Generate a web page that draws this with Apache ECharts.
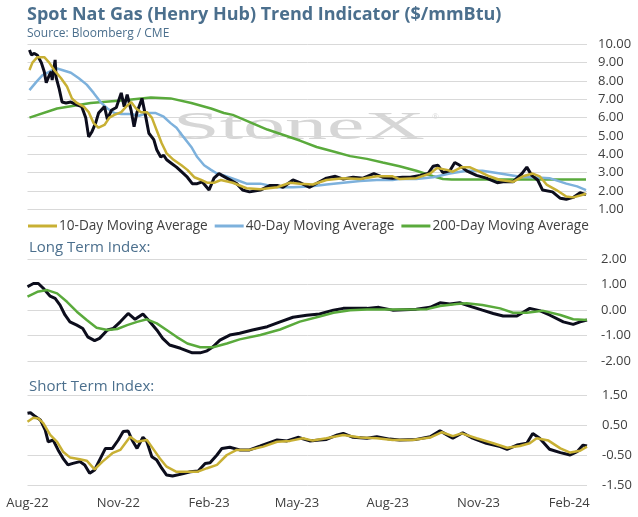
<!DOCTYPE html>
<html>
<head>
<meta charset="utf-8">
<script src="https://cdn.jsdelivr.net/npm/echarts@6.0.0/dist/echarts.min.js"></script>
<style>
  html, body { margin: 0; padding: 0; background: #fff; }
  #main { width: 638px; height: 517px; }
</style>
</head>
<body>
<div id="main"></div>
<script>
// x values are days counted from 1 Aug 2022
const monthTicks = [0, 92, 184, 273, 365, 457, 549];
const priceTicks = [1, 2, 3, 4, 5, 6, 7, 8, 9, 10];
const longTicks = [-2, -1, 0, 1, 2];
const shortTicks = [-1.5, -0.5, 0.5, 1.5];

// top panel: spot price and moving averages ($/mmBtu)
const spot = [[2,9.69],[4,9.42],[7,9.5],[10,9.4],[14,9.0],[17,8.5],[19,7.9],[22,8.3],[24,8.5],[25,8.05],[28,9.15],[29,8.2],[32,7.6],[35,6.85],[39,6.8],[44,6.85],[50,6.7],[55,6.6],[59,6.0],[62,4.95],[65,5.2],[69,5.7],[72,6.25],[78,6.6],[81,5.9],[85,6.4],[90,6.55],[95,7.35],[98,6.6],[101,7.25],[105,6.4],[108,5.5],[111,6.3],[116,7.05],[120,6.0],[123,5.15],[128,4.8],[131,4.25],[135,3.85],[138,3.95],[141,3.7],[146,3.5],[151,3.3],[156,3.05],[158,2.95],[162,2.75],[167,2.4],[172,2.4],[177,2.5],[184,2.05],[189,2.7],[194,2.95],[197,2.85],[202,2.7],[212,2.4],[218,2.05],[225,1.95],[236,2.05],[246,2.3],[253,2.3],[259,2.2],[269,2.6],[276,2.45],[286,2.2],[296,2.5],[303,2.7],[312,2.8],[320,2.65],[330,2.75],[340,2.7],[351,2.95],[360,2.75],[370,2.7],[380,2.75],[388,2.75],[398,2.85],[406,2.95],[411,3.35],[416,3.4],[421,3.0],[428,3.1],[433,3.55],[438,3.4],[445,3.1],[455,2.85],[465,2.7],[476,2.45],[482,2.5],[492,2.5],[501,2.95],[506,3.3],[511,2.85],[517,2.6],[522,2.05],[532,1.95],[540,1.6],[546,1.55],[553,1.65],[560,1.9],[566,1.8]];
const ma10 = [[2,8.6],[5,9.0],[10,9.3],[17,9.3],[22,9.0],[27,8.6],[34,8.15],[40,7.7],[45,7.05],[50,6.8],[57,6.6],[62,6.3],[67,5.7],[72,5.45],[78,5.6],[83,6.0],[88,6.15],[95,6.3],[100,6.6],[105,6.85],[110,6.5],[115,6.3],[121,6.3],[126,6.0],[131,5.3],[136,4.6],[141,4.05],[148,3.7],[156,3.4],[162,3.15],[169,2.75],[176,2.6],[182,2.45],[189,2.45],[196,2.6],[198,2.7],[208,2.45],[222,2.15],[236,2.1],[253,2.2],[266,2.45],[276,2.4],[289,2.35],[303,2.6],[320,2.7],[337,2.65],[354,2.8],[370,2.8],[377,2.65],[394,2.7],[408,2.95],[415,3.25],[425,3.15],[431,3.05],[440,3.3],[448,3.3],[458,3.05],[468,2.8],[479,2.6],[492,2.5],[502,2.8],[512,2.95],[519,2.8],[526,2.35],[536,2.05],[546,1.7],[553,1.65],[560,1.75],[566,1.85]];
const ma40 = [[2,7.5],[9,7.95],[15,8.3],[22,8.5],[29,8.7],[35,8.6],[44,8.45],[52,8.15],[60,7.8],[67,7.35],[74,6.85],[81,6.5],[88,6.25],[95,6.2],[105,6.2],[113,6.1],[121,6.25],[130,6.25],[138,6.05],[145,5.7],[151,5.45],[158,4.95],[166,4.4],[172,3.85],[179,3.4],[186,3.15],[192,2.95],[199,2.85],[212,2.6],[222,2.4],[236,2.4],[253,2.2],[269,2.2],[286,2.25],[303,2.35],[320,2.45],[337,2.55],[354,2.6],[370,2.6],[377,2.65],[394,2.65],[411,2.75],[428,2.95],[445,3.1],[461,3.1],[479,2.95],[496,2.8],[512,2.75],[529,2.7],[546,2.4],[557,2.25],[566,2.05]];
const ma200 = [[2,6.0],[30,6.5],[64,6.8],[98,6.95],[125,7.1],[145,7.05],[166,6.8],[186,6.5],[199,6.25],[208,6.15],[243,5.35],[276,4.75],[293,4.4],[310,4.15],[327,3.9],[344,3.75],[360,3.55],[377,3.35],[394,3.1],[411,2.8],[421,2.65],[430,2.62],[566,2.62]];

// middle panel: long term index
const longIdx = [[0,0.92],[6,1.05],[11,1.05],[16,0.86],[23,0.55],[28,0.46],[33,0.2],[38,-0.19],[43,-0.46],[50,-0.59],[56,-0.72],[61,-1.05],[68,-1.2],[73,-1.11],[81,-0.78],[87,-0.72],[94,-0.46],[102,-0.13],[109,-0.36],[117,-0.15],[124,-0.46],[131,-0.78],[137,-1.11],[144,-1.37],[155,-1.5],[167,-1.68],[175,-1.68],[182,-1.6],[188,-1.44],[195,-1.18],[205,-0.98],[215,-0.91],[228,-0.78],[243,-0.65],[256,-0.46],[269,-0.28],[283,-0.2],[296,-0.15],[310,0],[320,0.07],[344,0.07],[356,0.11],[370,0.0],[394,0.04],[408,0.11],[418,0.29],[428,0.24],[438,0.29],[448,0.16],[461,0.0],[472,-0.13],[482,-0.23],[496,-0.23],[509,0.07],[519,-0.02],[529,-0.19],[543,-0.46],[553,-0.56],[560,-0.46],[567,-0.39]];
const longSig = [[0,0.53],[10,0.72],[20,0.79],[30,0.66],[40,0.33],[50,-0.06],[60,-0.39],[70,-0.69],[81,-0.78],[91,-0.74],[101,-0.59],[111,-0.46],[121,-0.36],[131,-0.52],[141,-0.78],[151,-1.05],[162,-1.31],[175,-1.46],[188,-1.46],[202,-1.31],[215,-1.15],[236,-0.98],[256,-0.76],[276,-0.45],[296,-0.25],[310,-0.1],[327,0],[344,0.03],[370,0.03],[405,0.04],[418,0.16],[435,0.24],[445,0.27],[461,0.2],[479,0.07],[492,-0.1],[506,-0.1],[522,-0.02],[540,-0.19],[553,-0.36],[567,-0.39]];

// bottom panel: short term index
const shortIdx = [[0,0.89],[3,0.91],[8,0.78],[13,0.67],[18,0.33],[21,-0.06],[26,0],[31,-0.33],[36,-0.61],[41,-0.83],[46,-0.78],[53,-0.72],[58,-0.83],[63,-1.11],[68,-1.0],[73,-0.67],[79,-0.28],[86,-0.28],[92,0],[97,0.28],[102,0.3],[106,0],[111,-0.28],[117,0.09],[121,-0.06],[126,-0.56],[131,-0.67],[136,-0.94],[141,-1.17],[147,-1.2],[157,-1.13],[165,-1.06],[173,-1.03],[180,-0.78],[185,-0.76],[192,-0.5],[197,-0.28],[205,-0.24],[215,-0.33],[225,-0.33],[236,-0.2],[246,-0.08],[253,0],[263,-0.03],[274,0.09],[286,-0.03],[296,0],[303,0.02],[314,0.17],[320,0.22],[330,0.09],[344,0.06],[354,0.11],[367,0.03],[377,0],[394,0.02],[408,0.11],[418,0.31],[425,0.17],[431,0.06],[441,0.24],[451,0.06],[465,-0.11],[479,-0.22],[486,-0.31],[496,-0.17],[506,-0.11],[512,0.22],[519,0.06],[529,-0.31],[540,-0.42],[550,-0.5],[557,-0.39],[563,-0.17],[567,-0.2]];
const shortSig = [[0,0.61],[6,0.74],[11,0.72],[16,0.56],[23,0.17],[30,-0.06],[36,-0.39],[43,-0.58],[53,-0.64],[60,-0.69],[68,-0.98],[76,-0.72],[86,-0.44],[94,-0.33],[104,0.11],[111,-0.06],[121,0],[127,-0.28],[134,-0.61],[141,-0.89],[151,-1.06],[162,-1.06],[172,-1.06],[182,-0.94],[192,-0.83],[202,-0.5],[212,-0.33],[225,-0.33],[239,-0.22],[253,-0.06],[266,-0.03],[279,0.06],[289,-0.02],[303,0.06],[320,0.17],[337,0.08],[354,0.06],[370,0],[390,0],[408,0.08],[420,0.26],[431,0.13],[440,0.22],[455,0.06],[472,-0.11],[486,-0.26],[499,-0.2],[509,-0.11],[516,0.06],[528,-0.02],[540,-0.28],[550,-0.42],[560,-0.36],[567,-0.22]];

const FONT = 'Open Sans';
const TXT = '#404040';
const HEAD = '#4b6f8d';
const C_BLACK = '#0c0d1c', C_GOLD = '#c8b034', C_BLUE = '#7db1dc', C_GREEN = '#5aaa3c';

const MONTHS = ['Jan','Feb','Mar','Apr','May','Jun','Jul','Aug','Sep','Oct','Nov','Dec'];
function dayLabel(v) {
  const d = new Date(Date.UTC(2022, 7, 1) + v * 86400000);
  return MONTHS[d.getUTCMonth()] + '-' + String(d.getUTCFullYear()).slice(2);
}

function xAx(idx, showLabels) {
  return {
    type: 'value', gridIndex: idx, min: 0, max: 567,
    axisLine: { show: false }, axisTick: { show: false }, splitLine: { show: false },
    axisLabel: {
      show: showLabels, customValues: monthTicks, formatter: dayLabel,
      color: TXT, fontFamily: FONT, fontSize: 13, margin: 12
    }
  };
}
function yAx(idx, min, max, ticks, margin) {
  return {
    type: 'value', gridIndex: idx, position: 'right', min: min, max: max,
    axisLine: { show: false },
    axisTick: { show: false, customValues: ticks },
    splitLine: { lineStyle: { color: '#d9d9d9', width: 1 } },
    axisLabel: {
      customValues: ticks, formatter: v => v.toFixed(2),
      color: TXT, fontFamily: FONT, fontSize: 13, margin: margin
    }
  };
}
function line(name, data, color, width, xi, z) {
  return {
    name: name, type: 'line', data: data, xAxisIndex: xi, yAxisIndex: xi,
    showSymbol: false, symbol: 'none', z: z,
    lineStyle: { color: color, width: width }, itemStyle: { color: color }
  };
}

const chart = echarts.init(document.getElementById('main'), null, { renderer: 'canvas' });
chart.setOption({
  animation: false,
  title: [
    {
      text: 'Spot Nat Gas (Henry Hub) Trend Indicator ($/mmBtu)',
      subtext: 'Source: Bloomberg / CME',
      left: 22, top: 1, itemGap: 4,
      textStyle: { color: HEAD, fontFamily: FONT, fontSize: 18, fontWeight: 'bold' },
      subtextStyle: { color: HEAD, fontFamily: FONT, fontSize: 12 }
    },
    { text: 'Long Term Index:', left: 24, top: 235, textStyle: { color: HEAD, fontFamily: FONT, fontSize: 15, fontWeight: 'normal' } },
    { text: 'Short Term Index:', left: 24, top: 374, textStyle: { color: HEAD, fontFamily: FONT, fontSize: 15, fontWeight: 'normal' } }
  ],
  graphic: [
    {
      type: 'text', left: 173, top: 108, scaleX: 2.1, z: 0, silent: true,
      style: { text: 'StoneX', fill: '#d6d6d6', font: '40px "Liberation Serif"' }
    },
    {
      type: 'text', left: 432, top: 112, z: 0, silent: true,
      style: { text: '®', fill: '#d6d6d6', font: '9px "Liberation Serif"' }
    }
  ],
  legend: {
    data: ['10-Day Moving Average', '40-Day Moving Average', '200-Day Moving Average'],
    left: 23, top: 214, itemWidth: 29, itemHeight: 3, itemGap: 7, icon: 'rect',
    textStyle: { color: TXT, fontFamily: FONT, fontSize: 13.6, padding: [0, 0, 0, -3] }
  },
  grid: [
    { left: 27.5, right: 51, top: 44.3, height: 165 },
    { left: 27.5, right: 51, top: 259.3, height: 101.7 },
    { left: 27.5, right: 51, top: 395, height: 90 }
  ],
  xAxis: [xAx(0, false), xAx(1, false), xAx(2, true)],
  yAxis: [
    yAx(0, 1, 10, priceTicks, 11),
    yAx(1, -2, 2, longTicks, 14),
    yAx(2, -1.5, 1.5, shortTicks, 15)
  ],
  series: [
    line('200-Day Moving Average', ma200, C_GREEN, 2.5, 0, 2),
    line('40-Day Moving Average', ma40, C_BLUE, 2.5, 0, 3),
    line('Spot', spot, C_BLACK, 3, 0, 4),
    line('10-Day Moving Average', ma10, C_GOLD, 2.5, 0, 5),
    line('Long Term Index', longIdx, C_BLACK, 3, 1, 4),
    line('Long Term Signal', longSig, C_GREEN, 2.5, 1, 5),
    line('Short Term Index', shortIdx, C_BLACK, 3, 2, 4),
    line('Short Term Signal', shortSig, C_GOLD, 2.5, 2, 5)
  ]
});
</script>
</body>
</html>
